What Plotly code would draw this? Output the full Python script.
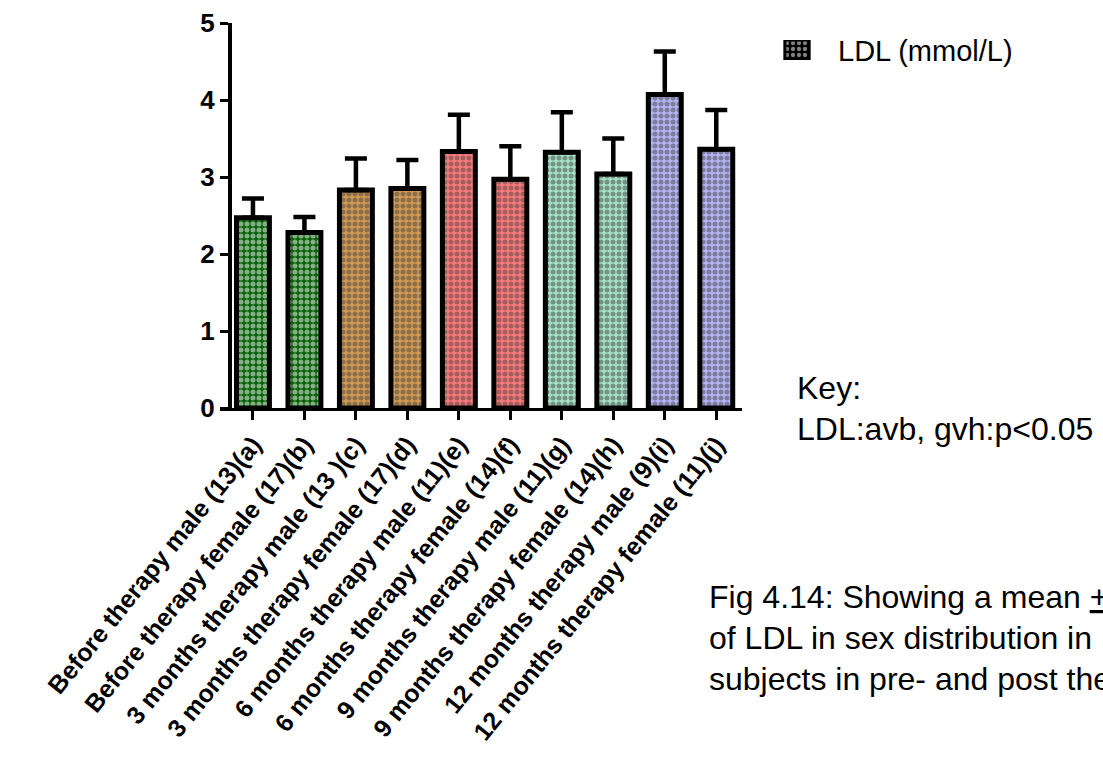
import plotly.graph_objects as go

W, H = 1103, 760

categories = [
    "Before therapy male (13)(a)",
    "Before therapy female (17)(b)",
    "3 months therapy male (13 )(c)",
    "3 months therapy female (17)(d)",
    "6 months therapy male (11)(e)",
    "6 months therapy female (14)(f)",
    "9 months therapy male (11)(g)",
    "9 months therapy female (14)(h)",
    "12 months therapy male (9)(i)",
    "12 months therapy female (11)(j)",
]
means = [2.47, 2.28, 2.83, 2.85, 3.33, 2.97, 3.32, 3.04, 4.07, 3.36]
sem = [0.25, 0.20, 0.41, 0.37, 0.48, 0.43, 0.52, 0.46, 0.56, 0.51]
bar_colors = ["#086008", "#086008", "#d39a52", "#d39a52", "#ff7a7a",
              "#ff7a7a", "#a6e2c6", "#a6e2c6", "#b4b4f6", "#b4b4f6"]
y_ticks = [0, 1, 2, 3, 4, 5]
legend_label = "LDL (mmol/L)"
key_lines = ["Key:", "LDL:avb, gvh:p<0.05"]
caption_lines = [
    "Fig 4.14: Showing a mean <u>+</u> SEM",
    "of LDL in sex distribution in HIV",
    "subjects in pre- and post therapy",
]

FONT = "Liberation Sans, Arial, sans-serif"

def px(x):
    return x / W

def py(y):
    return 1 - y / H

x_idx = list(range(len(categories)))

fig = go.Figure()
fig.add_trace(go.Bar(
    x=x_idx, y=means,
    marker=dict(
        color=bar_colors,
        line=dict(color="black", width=5),
        pattern=dict(shape=".", fgcolor="black", size=6, solidity=0.55),
    ),
    error_y=dict(type="data", array=sem, arrayminus=[0] * len(sem),
                 symmetric=False, color="black", thickness=4.5, width=11),
    showlegend=False,
    xaxis="x", yaxis="y",
))

# legend swatch drawn on its own tiny axes
fig.add_trace(go.Bar(
    x=[0], y=[1],
    marker=dict(color="black", line=dict(color="black", width=3),
                pattern=dict(shape=".", fgcolor="white", size=6, solidity=0.4)),
    showlegend=False, hoverinfo="skip",
    xaxis="x2", yaxis="y2",
))

fig.update_layout(
    width=W, height=H,
    margin=dict(l=0, r=0, t=0, b=0),
    paper_bgcolor="white", plot_bgcolor="white",
    bargap=0.36,
    showlegend=False,
    xaxis=dict(
        domain=[px(220), px(742)],
        range=[-0.64, 9.5],
        tickmode="array", tickvals=x_idx, ticktext=categories,
        tickangle=-51,
        tickfont=dict(family=FONT, size=25, color="black", weight="bold"),
        showline=True, linecolor="black", linewidth=3,
        ticks="outside", ticklen=9, tickwidth=3, tickcolor="black",
        showgrid=False, zeroline=False, automargin=False,
        anchor="y",
    ),
    yaxis=dict(
        domain=[py(408), py(23)],
        range=[0, 5],
        tickvals=y_ticks,
        tickfont=dict(family=FONT, size=26, color="black", weight="bold"),
        showline=True, linecolor="black", linewidth=4,
        ticks="outside", ticklen=8, tickwidth=3, tickcolor="black",
        showgrid=False, zeroline=False, automargin=False,
        anchor="free", position=px(230),
    ),
    xaxis2=dict(domain=[px(778), px(816)], range=[-0.5, 0.5], visible=False,
                anchor="y2", fixedrange=True),
    yaxis2=dict(domain=[py(60), py(40)], range=[0, 1], visible=False,
                anchor="x2", fixedrange=True),
    font=dict(family=FONT, color="black"),
)

annotations = [
    dict(x=px(836), y=py(51), text=legend_label, xanchor="left", yanchor="middle",
         font=dict(size=29)),
    dict(x=px(795), y=py(388), text=key_lines[0], xanchor="left", yanchor="middle",
         font=dict(size=32)),
    dict(x=px(795), y=py(429), text=key_lines[1], xanchor="left", yanchor="middle",
         font=dict(size=32)),
]
for i, line in enumerate(caption_lines):
    annotations.append(dict(x=px(707), y=py(597 + 41 * i), text=line,
                            xanchor="left", yanchor="middle", font=dict(size=32)))
for a in annotations:
    a.update(xref="paper", yref="paper", showarrow=False)
    a["font"].update(family=FONT, color="black")
fig.update_layout(annotations=annotations)

fig.write_html("out.html")
